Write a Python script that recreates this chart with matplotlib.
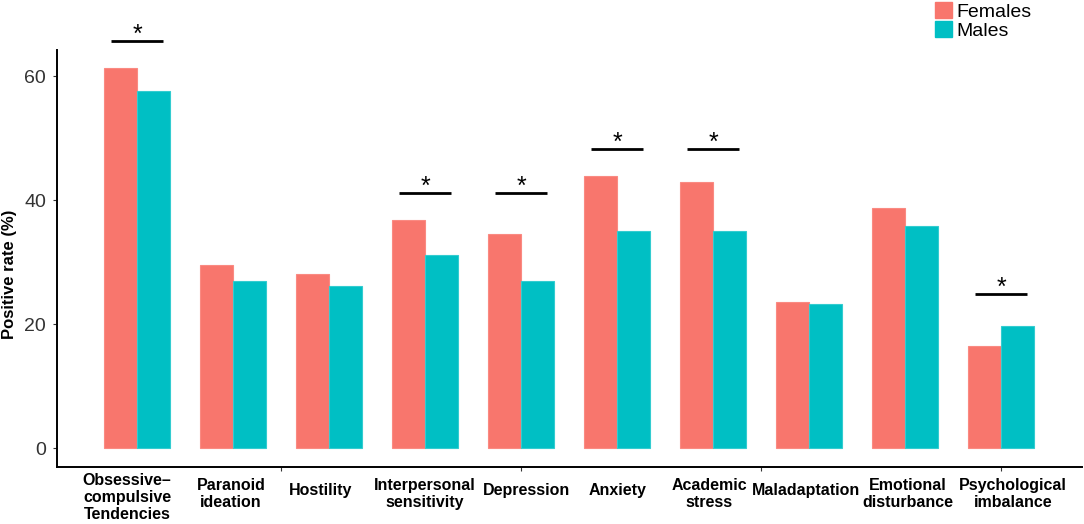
import numpy as np
import matplotlib.pyplot as plt
from matplotlib.patches import Patch

plt.rcParams['font.family'] = ['Liberation Sans', 'DejaVu Sans']

# data
categories = ['Obsessive\u2013\ncompulsive\nTendencies', 'Paranoid\nideation', 'Hostility',
              'Interpersonal\nsensitivity', 'Depression', 'Anxiety', 'Academic\nstress',
              'Maladaptation', 'Emotional\ndisturbance', 'Psychological\nimbalance']
females = [61.3, 29.6, 28.1, 36.8, 34.5, 44.0, 42.9, 23.6, 38.7, 16.5]
males = [57.6, 27.0, 26.1, 31.2, 27.0, 35.0, 35.0, 23.3, 35.9, 19.7]
# significance brackets: category index (1-based) and height
sig_pos = [1, 4, 5, 6, 7, 10]
sig_height = [65.7, 41.1, 41.1, 48.2, 48.2, 24.9]

col_f = '#F8766D'
col_m = '#00BFC4'

# the labels in the original are nudged by hand a little (pixels)
label_nudge = [-10, -2, -8, 0, 5, 0, -4, -3, 3, 12]

fig = plt.figure(figsize=(10.84, 5.24), dpi=100)
ax = fig.add_axes([0.0526, 0.1088, 0.9454, 0.7958])

x = np.arange(1, len(categories) + 1)
w = 0.347
ax.bar(x - w / 2, females, width=w, color=col_f, edgecolor='#FA8A82', linewidth=0.8)
ax.bar(x + w / 2, males, width=w, color=col_m, edgecolor='#33CCD0', linewidth=0.8)

# significance lines and stars
for p, h in zip(sig_pos, sig_height):
    ax.plot([p - 0.27, p + 0.27], [h, h], color='black', lw=2, clip_on=False,
            solid_capstyle='butt')
    ax.text(p, h - 0.9, '*', ha='center', va='bottom', fontsize=18, clip_on=False)

ax.set_xlim(0.167, 10.84)
ax.set_ylim(-3.02, 64.25)

ax.set_yticks([0, 20, 40, 60])
ax.tick_params(axis='y', labelsize=14, labelcolor='#333333', color='#333333',
               length=3, width=0.8, pad=5)
ax.set_xticks([2.5, 5, 7.5, 10])
ax.set_xticklabels([])
ax.tick_params(axis='x', color='#333333', length=3, width=0.8)

for s in ['top', 'right']:
    ax.spines[s].set_visible(False)
for s in ['left', 'bottom']:
    ax.spines[s].set_linewidth(1.4)
    ax.spines[s].set_color('black')

fig.text(10 / 1084, 1 - 274 / 524, 'Positive rate (%)', rotation=90, ha='center',
         va='center', fontsize=12, fontweight='bold')

# category labels below the axis
for xi, lab, nd in zip(x, categories, label_nudge):
    n = lab.count('\n') + 1
    off = -(21 - 5 * n) * 0.72
    ax.annotate(lab, xy=(xi, 0), xycoords=('data', 'axes fraction'),
                xytext=(nd * 0.72, off), textcoords='offset points',
                ha='center', va='top', fontsize=11.5, fontweight='bold',
                linespacing=1.15, annotation_clip=False)

handles = [Patch(color=col_f, label='Females'), Patch(color=col_m, label='Males')]
fig.legend(handles=handles, loc='upper left', bbox_to_anchor=(933 / 1084, 1.0),
           frameon=False, fontsize=14, handlelength=0.9, handleheight=0.9,
           labelspacing=0.02, handletextpad=0.2, borderpad=0.1, borderaxespad=0)

plt.savefig('out.png', dpi=100)
